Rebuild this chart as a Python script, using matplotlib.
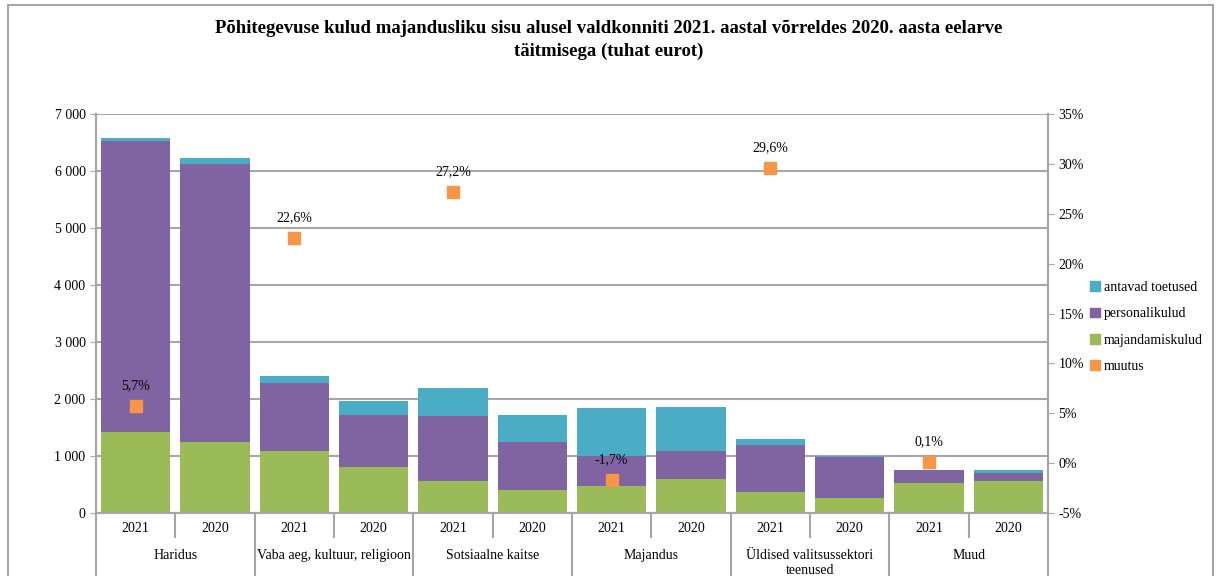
import matplotlib
matplotlib.use("Agg")
import matplotlib.pyplot as plt
import numpy as np
from matplotlib.patches import Patch, Rectangle
from matplotlib.lines import Line2D
from matplotlib.ticker import FuncFormatter, MultipleLocator

plt.rcParams['font.family'] = ['Liberation Serif', 'DejaVu Serif']

groups = ["Haridus", "Vaba aeg, kultuur, religioon", "Sotsiaalne kaitse",
          "Majandus", "Üldised valitsussektori\nteenused", "Muud"]
years = ["2021", "2020"]

# values in thousand euros, order: per group 2021, 2020
majandamiskulud = [1425, 1250, 1080, 810, 560, 400, 480, 600, 360, 270, 535, 553]
personalikulud = [5095, 4880, 1200, 910, 1145, 845, 515, 482, 830, 712, 218, 153]
antavad_toetused = [60, 100, 120, 240, 485, 475, 840, 778, 100, 18, 5, 47]
muutus = [5.7, 22.6, 27.2, -1.7, 29.6, 0.1]

c_teal = "#4BACC6"
c_purple = "#8064A2"
c_green = "#9BBB59"
c_orange = "#F79646"
c_grid = "#A6A6A6"

fig = plt.figure(figsize=(12.17, 5.76), dpi=100)
ax = fig.add_axes([96 / 1217, 1 - 513 / 576, 952 / 1217, 399 / 576])

x = np.arange(len(majandamiskulud))
w = 0.87
green = np.array(majandamiskulud)
purple = np.array(personalikulud)
teal = np.array(antavad_toetused)
ax.bar(x, green, w, color=c_green, zorder=2)
ax.bar(x, purple, w, bottom=green, color=c_purple, zorder=2)
ax.bar(x, teal, w, bottom=green + purple, color=c_teal, zorder=2)

ax.set_xlim(-0.5, len(x) - 0.5)
ax.set_ylim(0, 7000)
ax.yaxis.set_major_locator(MultipleLocator(1000))
ax.yaxis.set_major_formatter(FuncFormatter(lambda v, p: f"{v:,.0f}".replace(",", " ")))
ax.grid(axis='y', color=c_grid, lw=1.5, zorder=0)
ax.set_xticks([])
ax.tick_params(axis='y', labelsize=10, colors=c_grid, labelcolor='black', length=4)
ax.spines['top'].set_visible(False)
for s in ['left', 'right', 'bottom']:
    ax.spines[s].set_color(c_grid)
    ax.spines[s].set_linewidth(1.5)

ax2 = ax.twinx()
ax2.set_ylim(-5, 35)
ax2.yaxis.set_major_locator(MultipleLocator(5))
ax2.yaxis.set_major_formatter(FuncFormatter(lambda v, p: f"{v:.0f}%"))
ax2.tick_params(axis='y', labelsize=10, colors=c_grid, labelcolor='black', length=4)
ax2.spines['top'].set_visible(False)
for s in ['left', 'right', 'bottom']:
    ax2.spines[s].set_color(c_grid)
    ax2.spines[s].set_linewidth(1.5)

px = x[::2]
ax2.plot(px, muutus, 's', color=c_orange, markersize=8.5, zorder=5)
for xi, v in zip(px, muutus):
    ax2.annotate(f"{v:.1f}%".replace(".", ","), (xi, v), xytext=(0, 10),
                 textcoords='offset points', ha='center', va='bottom', fontsize=10)

# multi-level category axis
trans = ax.get_xaxis_transform()
axh = 399
for i, xi in enumerate(x):
    ax.text(xi, -15 / axh, years[i % 2], transform=trans, ha='center', va='center', fontsize=10)
for gi, g in enumerate(groups):
    ax.text(2 * gi + 0.5, -36 / axh, g, transform=trans, ha='center', va='top',
            fontsize=10, linespacing=1.15)
for k in range(len(x) + 1):
    xb = k - 0.5
    if k % 2 == 0:
        y1 = -70 / axh
    else:
        y1 = -24 / axh
    ax.add_line(Line2D([xb, xb], [0, y1], transform=trans, color=c_grid, lw=1.5, clip_on=False))

fig.text(0.5, 1 - 40 / 576, "Põhitegevuse kulud majandusliku sisu alusel valdkonniti 2021. aastal võrreldes 2020. aasta eelarve\ntäitmisega (tuhat eurot)",
         ha='center', va='center', fontsize=13.5, fontweight='bold', linespacing=1.45)

handles = [Patch(color=c_teal, label="antavad toetused"),
           Patch(color=c_purple, label="personalikulud"),
           Patch(color=c_green, label="majandamiskulud"),
           Line2D([], [], marker='s', ls='none', color=c_orange, markersize=7, label="muutus")]
fig.legend(handles=handles, loc='center left', bbox_to_anchor=(1083 / 1217, 1 - 327 / 576),
           frameon=False, fontsize=10, handlelength=0.7, handleheight=0.7,
           handletextpad=0.3, labelspacing=0.95, borderpad=0)

fig.add_artist(Rectangle((8 / 1217, -0.1), 1205 / 1217, 1.1 - 5 / 576, transform=fig.transFigure,
                         fill=False, ec=c_grid, lw=1.5, clip_on=False))

fig.savefig("out.png", dpi=100)
